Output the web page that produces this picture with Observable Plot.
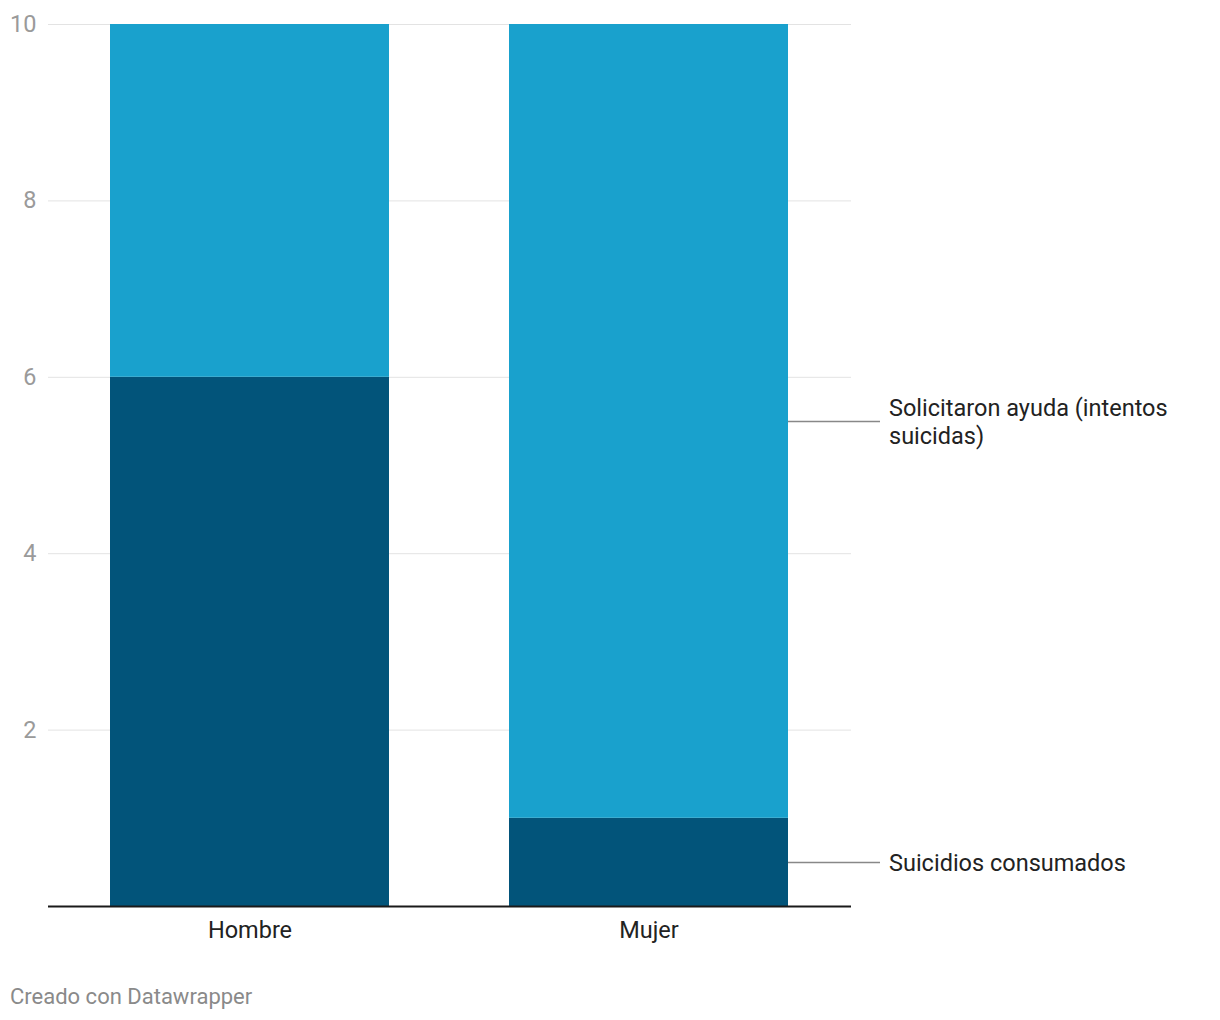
<!DOCTYPE html>
<html>
<head>
<meta charset="utf-8">
<script src="https://cdn.jsdelivr.net/npm/d3@7"></script>
<script src="https://cdn.jsdelivr.net/npm/@observablehq/plot@0.6"></script>
<style>
  body { margin: 0; background: #fff; font-family: Roboto, sans-serif; }
  #footer { margin-top: 34px; padding-left: 10px; font-size: 22px; line-height: 26px; color: #8a8a8a; }
</style>
</head>
<body>
<div id="chart"></div>
<div id="footer">Creado con Datawrapper</div>
<script>
const categories = ["Hombre", "Mujer"];
const series = ["Suicidios consumados", "Solicitaron ayuda (intentos suicidas)"];
const seriesLabels = ["Suicidios consumados", "Solicitaron ayuda (intentos\nsuicidas)"];
const consumados = [6, 1];
const solicitaron = [4, 9];
const yTicks = [2, 4, 6, 8, 10];
const colors = ["#02547a", "#19a1cd"];

const data = [];
categories.forEach((c, i) => {
  data.push({cat: c, serie: series[0], value: consumados[i]});
  data.push({cat: c, serie: series[1], value: solicitaron[i]});
});

const last = categories.length - 1;
const labels = [
  {cat: categories[last], text: seriesLabels[0], y: consumados[last] / 2},
  {cat: categories[last], text: seriesLabels[1], y: consumados[last] + solicitaron[last] / 2}
];

const leaders = (index, scales, values, dimensions) => {
  const g = d3.create("svg:g");
  const x0 = scales.x(categories[last]) + scales.x.bandwidth();
  labels.forEach(l => {
    const yy = Math.round(scales.y(l.y)) + 0.5;
    g.append("line")
      .attr("x1", x0).attr("x2", x0 + 92)
      .attr("y1", yy).attr("y2", yy)
      .attr("stroke", "#888").attr("stroke-width", 1.5);
  });
  return g.node();
};

const plot = Plot.plot({
  width: 1220,
  height: 950,
  marginLeft: 48,
  marginRight: 369,
  marginTop: 24,
  marginBottom: 44,
  style: {fontFamily: "Roboto, sans-serif", fontSize: "23.5px", color: "#222", background: "#fff"},
  x: {domain: categories, paddingInner: 0.3, paddingOuter: 0.155, label: null, tickSize: 0, tickPadding: 15},
  y: {domain: [0, 10], ticks: yTicks, label: null, tickSize: 0, tickPadding: 12},
  color: {domain: series, range: colors},
  marks: [
    Plot.ruleY(yTicks, {stroke: "#e3e3e3", strokeWidth: 1}),
    Plot.barY(data, {x: "cat", y: "value", fill: "serie", order: series}),
    Plot.ruleY([0], {stroke: "#1a1a1a", strokeWidth: 2}),
    leaders,
    Plot.text(labels, {x: "cat", y: "y", text: "text", dx: 240, textAnchor: "start", lineHeight: 1.19, fill: "#222", fontSize: 23.5})
  ]
});
d3.select(plot).selectAll("[aria-label='y-axis tick label'] text, [aria-label='y-axis tick label']").attr("fill", "#9a9a9a");
document.getElementById("chart").appendChild(plot);
</script>
</body>
</html>
